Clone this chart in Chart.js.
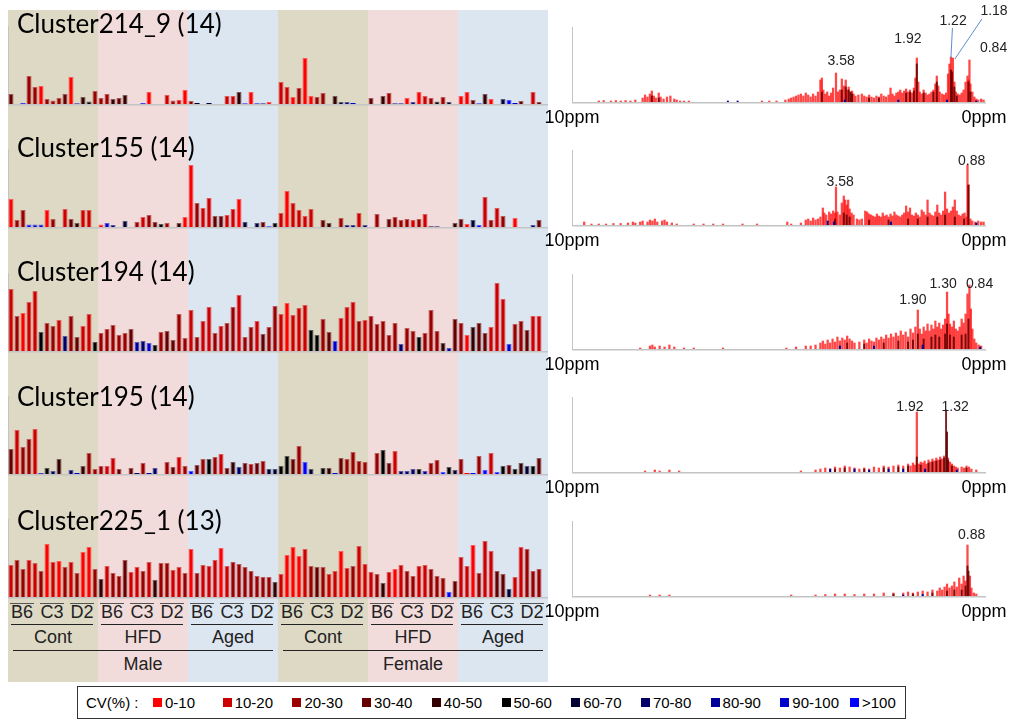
<!DOCTYPE html>
<html>
<head>
<meta charset="utf-8">
<title>Cluster CV profiles and spectra</title>
<script src="https://cdn.jsdelivr.net/npm/chart.js@4.4.1/dist/chart.umd.min.js"></script>
<style>
html,body{margin:0;padding:0;background:#fff;}
body{position:relative;width:1014px;height:722px;overflow:hidden;font-family:"Liberation Sans",Arial,sans-serif;color:#000;}
.band{position:absolute;z-index:0;}
canvas.plot{position:absolute;z-index:1;}
.txt{position:absolute;z-index:3;white-space:nowrap;line-height:normal;}
.title{font-family:Lato,"Noto Sans",sans-serif;font-size:26px;color:#000;}
.tick{font-size:18px;color:#000;}
.peak{font-size:14px;color:#222;}
.grp{font-size:18px;color:#222;}
.lgt{font-size:15px;color:#000;font-family:"Liberation Sans Narrow","Liberation Sans",Arial,sans-serif;}
.rule{position:absolute;z-index:2;height:1px;background:#333;}
.swatch{position:absolute;z-index:3;width:9px;height:9px;}
#legend{position:absolute;left:77px;top:686px;width:829px;height:33px;border:1px solid #333;box-sizing:border-box;z-index:2;background:#fff;}
</style>
</head>
<body>
<div id="legend"></div>
<script>
// ---- sample layout -------------------------------------------------------
const sexes = ['Male', 'Female'];
const diets = ['Cont', 'HFD', 'Aged'];
const strains = ['B6', 'C3', 'D2'];
const replicates = ['1', '2', '3', '4', '5'];
const dietColors = {Cont: '#ddd9c4', HFD: '#f2dcdb', Aged: '#dce6f1'};

// CV classes used to colour every bar / spectral line
const cvLabels = ['0-10', '10-20', '20-30', '30-40', '40-50', '50-60', '60-70', '70-80', '80-90', '90-100', '>100'];
const cvColors = ['#ff0000', '#cc0000', '#990000', '#660000', '#330000', '#000000', '#000033', '#000066', '#000099', '#0000cc', '#0000ff'];

const clusterNames = ['Cluster214_9 (14)', 'Cluster155 (14)', 'Cluster194 (14)', 'Cluster195 (14)', 'Cluster225_1 (13)'];

// ---- relative cluster intensity per sample (90 samples) -------------------
const row1Values = [10,0,0.7,28,17,18,5,3.5,6,10, 27,0.5,7,2.5,13,6,10,5,6,9, 0,0,0.7,12,0,0,9,3.5,4,14,
  3,1,0,1,0,0,8,8,12,0.5, 12,0.5,0.5,2,0,22,17,7,16,46, 8,7,11,0,8,2,2,1,0,0,
  6,0,8,11,0.5,0.5,6,2,12,8, 6,2.5,7,2,0,8,12,4,0.5,10, 5,0,5,4,1,3,0,12,2,0];
const row1Cv = [3,0,10,2,2,0,2,2,2,3, 0,9,4,5,2,2,2,4,3,4, 0,0,10,0,0,0,1,2,1,0,
  2,6,0,6,0,0,1,1,4,10, 0,9,8,0,0,1,1,0,2,0, 0,2,2,0,4,6,7,9,0,0,
  3,0,4,2,8,8,0,7,0,1, 2,5,2,6,0,0,0,3,10,4, 0,0,6,10,9,3,0,1,3,0];

const row2Values = [28,7,17,2.5,2.5,2.5,17,8,0,18, 8,4,17,17,0,2.5,4,2,0,6, 0,5,10,12,5,3,4,0,4,10,
  62,24,19,29,11,11,12,18,28,5, 0,4,5,0.5,4,14,36,24,17,11, 18,0,7,4,0,9,2,2,14,2,
  0,13,0,8,10,7,8,7,8,13, 0.5,0.5,0,0,4,8,3,7,2,30, 7,19,11,0,9,0,0,2,7,0];
const row2Cv = [0,2,2,10,9,9,0,2,0,1, 3,4,1,1,0,0,9,7,0,6, 0,2,1,2,3,5,2,0,4,0,
  0,2,1,1,3,3,1,1,0,6, 0,6,3,10,5,1,0,1,1,1, 1,0,3,4,0,2,7,7,1,7,
  0,2,0,3,2,2,2,1,2,1, 5,7,0,0,4,3,0,6,10,1, 2,1,2,0,0,0,0,7,3,0];

const row3Values = [62,35,38,49,60,19,28,25,31,15, 35,14,25,37,9,18,22,26,16,18, 22,9,10,8,6,19,20,11,37,13,
  41,14,30,44,18,25,28,44,56,14, 24,30,17,24,45,37,48,36,43,46, 21,16,32,19,10,33,44,49,30,31,
  35,27,30,16,28,7,23,20,14,18, 41,20,8,3,32,28,16,24,28,18, 24,68,52,7,27,30,21,35,35,0];
const row3Cv = [1,2,0,1,1,5,2,2,1,7, 2,3,1,1,5,2,2,2,2,2, 3,8,7,9,5,2,3,3,2,2,
  1,2,1,1,2,1,2,2,1,2, 2,1,3,2,2,1,0,1,1,1, 5,5,2,3,9,1,1,1,2,1,
  2,2,2,2,2,7,2,2,5,2, 2,2,4,8,3,2,0,4,3,3, 1,1,1,9,2,2,3,1,1,0];

const row4Values = [25,44,27,35,45,0.7,6,3,15,0, 4,1,8,21,5,8,8,16,5,0, 6,1,11,1,6,0,12,7,17,8,
  3,9,15,15,17,20,6,12,7,11, 10,11,13,5,5,8,18,15,28,12, 5,0,6,6,1,16,15,22,13,12,
  0,21,24,11,23,3,3,5,5,3, 11,14,2,7,4,15,1,1,18,4, 21,2,8,9,5,11,8,8,16,0];
const row4Cv = [3,1,2,2,1,9,5,7,4,0, 7,9,4,2,2,2,1,1,3,0, 3,7,2,8,7,0,2,3,1,2,
  10,3,2,5,2,1,3,4,7,3, 2,3,2,6,6,5,5,3,2,10, 6,0,5,4,9,3,2,2,2,2,
  0,2,5,3,1,7,7,7,5,8, 2,2,10,5,6,2,0,10,2,10, 1,10,5,3,5,4,6,5,3,0];

const row5Values = [32,37,28,37,34,26,53,35,36,30, 35,24,45,50,28,18,31,24,21,37, 25,30,26,35,17,34,34,27,30,24,
  48,24,32,31,37,49,31,35,33,30, 26,21,20,20,15,23,42,50,41,48, 31,30,30,23,26,46,29,31,51,33,
  25,23,14,25,28,32,26,21,31,32, 28,21,19,5,16,40,31,52,24,56, 46,26,23,8,20,50,48,26,28,0];
const row5Cv = [1,2,2,1,1,2,0,1,0,2, 1,2,0,0,2,4,1,2,2,3, 1,1,2,1,4,2,2,1,1,2,
  0,2,1,1,1,0,1,2,2,2, 2,2,2,2,4,1,0,0,0,1, 2,3,2,1,1,0,1,2,1,1,
  1,2,4,1,0,1,2,2,1,1, 2,2,2,10,3,1,1,0,2,1, 1,3,3,6,1,1,2,2,2,0];

const rowValues = [row1Values, row2Values, row3Values, row4Values, row5Values];
const rowCv = [row1Cv, row2Cv, row3Cv, row4Cv, row5Cv];

// ---- loading spectra: [ppm, intensity] ------------------------------------
const spec1Red = [[8.45,1],[8.35,1.5],[8.2,1],[8.1,1.5],[8.0,1],[7.9,1.5],[7.8,1],[7.7,2],
  [7.55,4],[7.5,7],[7.45,5],[7.4,8],[7.36,11],[7.32,6],[7.28,4],[7.22,9],[7.18,5],[7.12,3],[7.05,5],[6.98,6],[6.9,3],[6.85,2],
  [6.78,1],[6.7,1],[6.6,1],[5.1,1],[4.95,1],[4.8,1],
  [4.62,2],[4.55,3],[4.5,4],[4.45,5],[4.4,6],[4.35,7],[4.3,8],[4.25,6],[4.2,9],[4.15,7],[4.1,5],[4.05,8],[4.0,6],[3.95,10],
  [3.9,22],[3.87,24],[3.84,12],[3.8,8],[3.76,10],[3.72,6],[3.68,9],[3.64,14],[3.58,29],[3.54,10],[3.5,12],
  [3.46,23],[3.42,16],[3.38,22],[3.35,12],[3.32,15],[3.28,10],[3.25,11],[3.22,8],[3.18,6],[3.12,7],[3.05,8],
  [3.0,6],[2.95,5],[2.9,7],[2.85,5],[2.8,4],[2.75,6],[2.7,5],[2.65,8],[2.6,6],[2.55,5],[2.5,7],[2.46,14],[2.42,8],
  [2.38,6],[2.34,9],[2.3,10],[2.26,12],[2.22,9],[2.18,11],[2.14,13],[2.1,10],[2.06,12],[2.02,9],[1.98,14],
  [1.95,24],[1.92,44],[1.89,20],[1.86,10],[1.82,8],[1.78,12],[1.74,9],[1.7,7],[1.66,8],[1.62,10],[1.58,12],[1.54,18],[1.51,26],[1.48,16],[1.45,10],[1.4,8],[1.36,7],[1.32,9],
  [1.28,28],[1.25,38],[1.22,45],[1.2,30],[1.18,44],[1.15,20],[1.12,10],[1.08,8],[1.04,7],[1.0,9],[0.96,12],
  [0.92,20],[0.88,26],[0.86,22],[0.84,42],[0.82,18],[0.78,10],[0.74,5],[0.7,3],[0.66,2],[0.6,3],[0.55,2]];
const spec1Dark = [[7.36,6],[7.22,4],[3.87,10],[3.46,12],[3.38,15],[3.32,12],[3.28,10],[3.25,8],[2.9,4],[2.7,4],[2.14,9],[2.06,10],[1.98,11],
  [1.92,38],[1.78,9],[1.58,10],[1.51,20],[1.22,32],[1.2,30],[1.15,15],[1.1,6],[0.86,20],[0.82,10]];
const spec1Blue = [[5.8,1],[5.6,1],[3.4,2],[2.3,2],[1.3,2],[0.7,1]];

const spec2Red = [[8.75,3],[8.6,1],[8.45,1],[8.3,1],[8.15,1.5],[8.0,1.5],[7.85,2],[7.75,3],[7.7,2],[7.6,3],[7.55,4],[7.45,3],[7.4,5],[7.35,4],[7.3,6],[7.25,3],[7.15,4],[7.1,5],[7.05,3],[6.95,2],[6.85,1],
  [6.5,1],[6.3,1],[6.1,1],[5.9,1],[5.5,1],[5.2,1],
  [4.58,3],[4.5,1],[4.3,2],[4.2,5],[4.15,6],[4.1,4],[4.05,7],[4.0,5],[3.95,6],[3.9,8],
  [3.85,17],[3.82,12],[3.78,10],[3.72,13],[3.68,11],[3.64,14],[3.6,12],[3.58,38],[3.55,13],[3.5,10],
  [3.46,22],[3.42,29],[3.39,25],[3.36,20],[3.33,25],[3.3,16],[3.26,12],[3.22,10],[3.15,6],[3.1,5],[3.05,6],
  [2.98,14],[2.94,13],[2.9,11],[2.86,10],[2.82,9],[2.78,8],[2.74,11],[2.7,9],[2.66,8],[2.62,12],[2.58,9],[2.54,10],[2.5,8],[2.46,11],[2.42,9],[2.38,13],[2.34,10],[2.3,9],[2.26,8],[2.22,10],
  [2.18,12],[2.14,19],[2.1,13],[2.06,17],[2.02,10],[1.98,9],[1.94,12],[1.9,10],[1.86,8],[1.82,15],[1.78,13],[1.74,10],[1.7,25],[1.66,12],[1.62,10],[1.58,9],[1.54,13],[1.5,20],[1.46,12],
  [1.42,10],[1.38,14],[1.34,33],[1.3,16],[1.26,12],[1.22,14],[1.18,18],[1.14,25],[1.1,14],[1.06,10],[1.02,9],[0.98,11],[0.94,12],[0.9,8],[0.88,60],[0.86,40],[0.82,6],[0.78,4],[0.72,3],[0.66,4],[0.6,3],[0.55,3]];
const spec2Dark = [[3.6,6],[3.42,12],[3.36,10],[3.3,8],[2.9,5],[2.5,5],[2.1,6],[1.9,6],[1.7,8],[1.5,8],[1.34,10],[1.14,8],[0.95,6],[0.86,40]];
const spec2Blue = [[3.75,4],[3.62,3],[2.45,3],[0.7,2]];

const spec3Red = [[7.6,1],[7.4,3],[7.35,4],[7.3,2],[7.2,3],[7.1,2],[7.0,4],[6.9,2],[6.7,1],[6.5,1],[5.9,1],
  [4.6,1],[4.4,2],[4.2,3],[4.1,3],[4.0,4],[3.9,6],[3.85,8],[3.8,5],[3.75,9],[3.7,6],[3.65,10],[3.6,7],[3.55,12],[3.5,8],[3.45,11],[3.4,9],[3.35,13],[3.3,10],[3.25,8],[3.2,6],
  [3.1,7],[3.0,9],[2.95,6],[2.9,10],[2.85,8],[2.8,7],[2.75,11],[2.7,9],[2.65,12],[2.6,10],[2.55,14],[2.5,11],[2.45,15],[2.4,12],[2.35,16],[2.3,13],[2.25,18],[2.2,14],[2.15,17],[2.1,12],[2.05,20],[2.0,16],
  [1.95,22],[1.9,39],[1.86,20],[1.82,15],[1.78,22],[1.74,18],[1.7,25],[1.66,18],[1.62,24],[1.58,20],[1.54,28],[1.5,22],[1.46,26],[1.42,20],[1.38,24],[1.34,30],[1.3,57],[1.27,35],[1.24,25],[1.2,22],
  [1.16,28],[1.12,20],[1.08,18],[1.04,22],[1.0,30],[0.96,26],[0.92,35],[0.88,55],[0.84,64],[0.81,40],[0.78,20],[0.74,10],[0.7,6],[0.65,4],[0.6,3]];
const spec3Dark = [[3.35,6],[3.0,5],[2.6,6],[2.3,8],[2.1,7],[2.0,9],[1.9,15],[1.78,10],[1.62,12],[1.54,14],[1.46,12],[1.34,15],[1.3,25],[1.24,14],[1.16,12],[1.0,14],[0.92,15],[0.86,30]];
const spec3Blue = [[3.5,3],[2.8,3],[1.8,4],[0.62,2]];

const spec4Red = [[7.5,1],[7.3,2],[7.2,1],[7.0,2],[6.8,1],[4.3,1],[4.0,2],[3.9,3],[3.8,4],[3.7,3],[3.6,5],[3.5,4],[3.4,6],[3.3,5],[3.2,4],[3.1,3],[3.0,4],[2.9,3],[2.8,5],[2.7,4],[2.6,6],[2.5,5],[2.4,6],[2.3,7],[2.2,6],
  [2.1,8],[2.05,6],[2.0,9],[1.96,7],[1.92,60],[1.88,8],[1.84,10],[1.8,9],[1.76,11],[1.72,8],[1.68,12],[1.64,10],[1.6,13],[1.56,11],[1.52,14],[1.48,12],[1.44,15],[1.4,13],[1.36,16],[1.28,14],[1.24,10],
  [1.2,8],[1.16,6],[1.12,5],[1.08,4],[1.0,5],[0.95,4],[0.9,6],[0.85,5],[0.8,3],[0.7,2]];
const spec4Dark = [[3.6,3],[3.4,4],[3.0,3],[2.6,4],[2.3,5],[2.1,6],[1.92,15],[1.84,7],[1.68,9],[1.6,10],[1.52,11],[1.44,12],[1.36,14],[1.32,62],[1.3,40],[1.28,12],[1.2,6],[0.9,4]];
const spec4Blue = [[3.7,3],[3.2,3],[2.9,2],[2.5,3],[2.2,3],[1.75,3],[1.1,2]];

const spec5Red = [[7.4,1],[7.2,1],[7.0,1],[4.5,1],[4.0,1],[3.8,1.5],[3.6,2],[3.4,2],[3.2,1.5],[3.0,2],[2.8,2],[2.6,3],[2.4,3],[2.2,3],[2.1,4],[2.0,3],[1.9,4],[1.8,5],[1.7,4],[1.6,6],[1.5,5],[1.45,8],[1.4,6],
  [1.35,9],[1.3,12],[1.25,8],[1.2,10],[1.15,14],[1.1,9],[1.05,18],[1.0,12],[0.96,20],[0.92,15],[0.88,51],[0.83,20],[0.8,8],[0.75,3],[0.7,2]];
const spec5Dark = [[2.4,2],[2.0,2],[1.6,3],[1.3,5],[1.15,6],[1.0,6],[0.92,10],[0.88,30],[0.86,25]];
const spec5Blue = [[2.2,1],[1.8,1.5]];

const specRed = [spec1Red, spec2Red, spec3Red, spec4Red, spec5Red];
const specDark = [spec1Dark, spec2Dark, spec3Dark, spec4Dark, spec5Dark];
const specBlue = [spec1Blue, spec2Blue, spec3Blue, spec4Blue, spec5Blue];

// labelled peaks (ppm) of each spectrum
const spec1Peaks = ['3.58', '1.92', '1.22', '1.18', '0.84'];
const spec2Peaks = ['3.58', '0.88'];
const spec3Peaks = ['1.90', '1.30', '0.84'];
const spec4Peaks = ['1.92', '1.32'];
const spec5Peaks = ['0.88'];
const specPeaks = [spec1Peaks, spec2Peaks, spec3Peaks, spec4Peaks, spec5Peaks];
const ppmTickLabels = ['10ppm', '0ppm'];

// ---- layout / style -----------------------------------------------------
const barBase = [104, 227, 350.5, 474, 597];
const specBase = [101.7, 225, 348.5, 472, 595.5];
const titleBase = [33, 157, 281, 406, 530];
const BAR_H = 78, SPEC_H = 75, SPEC_PAD_TOP = 28;
// per-label offsets: dx from the peak, gap above its top, optional leader line start
const peakStyle = [
  [{dx:5, gap:8}, {dx:-9, gap:15}, {dx:2, gap:32, lead:[-0.5, 3]}, {dx:41, gap:43, lead:[-12, 4]}, {dx:24, gap:8}],
  [{dx:4, gap:1}, {dx:4, gap:0}],
  [{dx:-5, gap:6}, {dx:-4, gap:4}, {dx:10, gap:-3}],
  [{dx:-7, gap:1}, {dx:9, gap:-1}],
  [{dx:4, gap:6}]
];

const mixWhite = (hex, t) => {
  const n = parseInt(hex.slice(1), 16);
  const c = [(n >> 16) & 255, (n >> 8) & 255, n & 255].map(v => Math.round(v + (255 - v) * t));
  return `rgb(${c[0]},${c[1]},${c[2]})`;
};
const cvEdge = cvColors.map(c => mixWhite(c, 0.35));

function placeText(txt, cls, x, baseline, align) {
  const d = document.createElement('div');
  d.className = 'txt ' + cls;
  d.textContent = txt;
  const probe = document.createElement('span');
  probe.style.cssText = 'display:inline-block;width:0;height:0;vertical-align:baseline;';
  d.appendChild(probe);
  document.body.appendChild(d);
  const b = probe.offsetTop, w = d.offsetWidth;
  d.style.top = (baseline - b) + 'px';
  d.style.left = (align === 'center' ? x - w / 2 : align === 'right' ? x - w : x) + 'px';
  return d;
}
function addRule(x1, x2, y, color) {
  const r = document.createElement('div');
  r.className = 'rule';
  r.style.left = x1 + 'px'; r.style.top = y + 'px'; r.style.width = (x2 - x1) + 'px';
  if (color) r.style.background = color;
  document.body.appendChild(r);
}
function addCanvas(left, top, w, h) {
  const c = document.createElement('canvas');
  c.className = 'plot';
  c.width = w; c.height = h;
  c.style.left = left + 'px'; c.style.top = top + 'px';
  c.style.width = w + 'px'; c.style.height = h + 'px';
  document.body.appendChild(c);
  return c;
}

// sample labels: sex / diet / strain / replicate
const sampleLabels = [];
sexes.forEach(s => diets.forEach(d => strains.forEach(st => replicates.forEach(r => sampleLabels.push(`${s}-${d}-${st}-${r}`)))));

// thin grey frame: y axis line and baseline
const frameLines = {
  id: 'frameLines',
  beforeDatasetsDraw(chart) {
    const {ctx, chartArea: a} = chart;
    ctx.save();
    ctx.strokeStyle = '#c4c4c4';
    ctx.lineWidth = 1;
    ctx.beginPath(); ctx.moveTo(a.left + 0.5, a.top); ctx.lineTo(a.left + 0.5, a.bottom); ctx.stroke();
    ctx.lineWidth = 1.5;
    ctx.beginPath(); ctx.moveTo(a.left, a.bottom + 0.75); ctx.lineTo(a.right, a.bottom + 0.75); ctx.stroke();
    ctx.restore();
  }
};

// ---- CV profile rows ------------------------------------------------------
const barCharts = rowValues.map((vals, r) => {
  const cv = rowCv[r];
  const c = addCanvas(8, barBase[r] - BAR_H, 540, BAR_H + 2);
  return new Chart(c, {
    type: 'bar',
    data: {
      labels: sampleLabels,
      datasets: [{
        data: vals,
        backgroundColor: cv.map(k => cvColors[k]),
        borderColor: cv.map(k => cvEdge[k]),
        borderWidth: ctx => (ctx.raw > 1 ? 1 : 0),
        borderSkipped: 'bottom',
        categoryPercentage: 1,
        barPercentage: 0.85
      }]
    },
    options: {
      responsive: false, animation: false, devicePixelRatio: 1,
      layout: {padding: {left: 0, right: 0, top: 0, bottom: 2}},
      plugins: {legend: {display: false}, tooltip: {enabled: false}},
      scales: {x: {display: false}, y: {display: false, min: 0, max: BAR_H}}
    },
    plugins: [frameLines]
  });
});

// background bands for each sex / diet block, aligned to the category scale
const xs = barCharts[0].scales.x;
const xLeft = barCharts[0].canvas.offsetLeft;
const half = (xs.getPixelForValue(1) - xs.getPixelForValue(0)) / 2;
const perDiet = strains.length * replicates.length;
const perSex = diets.length * perDiet;
const idxPx = i => xLeft + xs.getPixelForValue(i);
sexes.forEach((s, si) => {
  diets.forEach((d, di) => {
    const i0 = si * perSex + di * perDiet, i1 = i0 + perDiet - 1;
    const l = idxPx(i0) - half, rgt = idxPx(i1) + half;
    const b = document.createElement('div');
    b.className = 'band';
    b.style.left = l + 'px'; b.style.width = (rgt - l) + 'px';
    b.style.top = '10px'; b.style.height = '672px';
    b.style.background = dietColors[d];
    document.body.appendChild(b);
    // strain labels with overline
    strains.forEach((st, k) => {
      const j0 = i0 + k * replicates.length, j1 = j0 + replicates.length - 1;
      const gl = idxPx(j0) - half, gr = idxPx(j1) + half;
      addRule(gl + 2, gr - 4, 602.5, '#555');
      placeText(st, 'grp', (gl + gr) / 2 - 1, 618, 'center');
    });
    addRule(l + 3, rgt - 5, 624, '#222');
    placeText(d, 'grp', (l + rgt) / 2, 643, 'center');
  });
  const sl = idxPx(si * perSex) - half, sr = idxPx(si * perSex + perSex - 1) + half;
  addRule(sl + 5, sr - 5, 650, '#222');
  placeText(s, 'grp', (sl + sr) / 2, 670, 'center');
});

clusterNames.forEach((n, r) => placeText(n, 'title', 17, titleBase[r], 'left'));

// ---- spectra ----------------------------------------------------------------
const toXY = arr => arr.map(([x, y]) => ({x, y}));
const leaderLines = {
  id: 'leaderLines',
  afterDatasetsDraw(chart) {
    const {ctx} = chart;
    ctx.save();
    ctx.strokeStyle = '#5b8fd0';
    ctx.lineWidth = 1;
    (chart.$leaders || []).forEach(([x1, y1, x2, y2]) => {
      ctx.beginPath(); ctx.moveTo(x1, y1); ctx.lineTo(x2, y2); ctx.stroke();
    });
    ctx.restore();
  }
};

specRed.forEach((red, r) => {
  const top = specBase[r] - SPEC_H - SPEC_PAD_TOP;
  const c = addCanvas(540, top, 474, SPEC_PAD_TOP + SPEC_H + 3);
  const ch = new Chart(c, {
    type: 'bar',
    data: {
      datasets: [
        {data: toXY(red), backgroundColor: 'rgba(255,0,0,0.72)', barThickness: 1.6, order: 3},
        {data: toXY(specDark[r]), backgroundColor: 'rgba(100,0,0,0.85)', barThickness: 1.3, order: 2},
        {data: toXY(specBlue[r]), backgroundColor: '#000099', barThickness: 1.3, order: 1}
      ]
    },
    options: {
      responsive: false, animation: false, devicePixelRatio: 1,
      datasets: {bar: {grouped: false}},
      layout: {padding: {left: 32, right: 28, top: SPEC_PAD_TOP, bottom: 3}},
      plugins: {legend: {display: false}, tooltip: {enabled: false}},
      scales: {
        x: {type: 'linear', min: 0.5, max: 9, reverse: true, offset: false, display: false},
        y: {display: false, min: 0, max: SPEC_H}
      }
    },
    plugins: [frameLines, leaderLines]
  });
  const sx = ch.scales.x, sy = ch.scales.y;
  const all = red.concat(specDark[r], specBlue[r]);
  const leaders = [];
  specPeaks[r].forEach((lab, k) => {
    const ppm = parseFloat(lab);
    const h = Math.max(...all.filter(p => Math.abs(p[0] - ppm) < 1e-6).map(p => p[1]));
    const st = peakStyle[r][k];
    const px = sx.getPixelForValue(ppm), py = sy.getPixelForValue(h);
    const lx = px + st.dx, ly = py - st.gap;
    placeText(lab, 'peak', 540 + lx, top + ly, 'center');
    if (st.lead) leaders.push([lx + st.lead[0], ly + st.lead[1], px + (st.dx > 20 ? 2 : 0), py + 1]);
  });
  ch.$leaders = leaders;
  ch.draw();
  placeText(ppmTickLabels[0], 'tick', 540 + sx.getPixelForValue(9), specBase[r] + 21, 'center');
  placeText(ppmTickLabels[1], 'tick', 540 + sx.getPixelForValue(0.5) - 2, specBase[r] + 21, 'center');
});

// ---- CV legend ----------------------------------------------------------------
placeText('CV(%) :', 'lgt', 86, 708, 'left');
cvLabels.forEach((lab, i) => {
  const x = 153 + i * 69.7;
  const s = document.createElement('div');
  s.className = 'swatch';
  s.style.left = x + 'px'; s.style.top = '698px'; s.style.background = cvColors[i];
  document.body.appendChild(s);
  placeText(lab, 'lgt', x + 12, 708, 'left');
});
</script>
</body>
</html>
